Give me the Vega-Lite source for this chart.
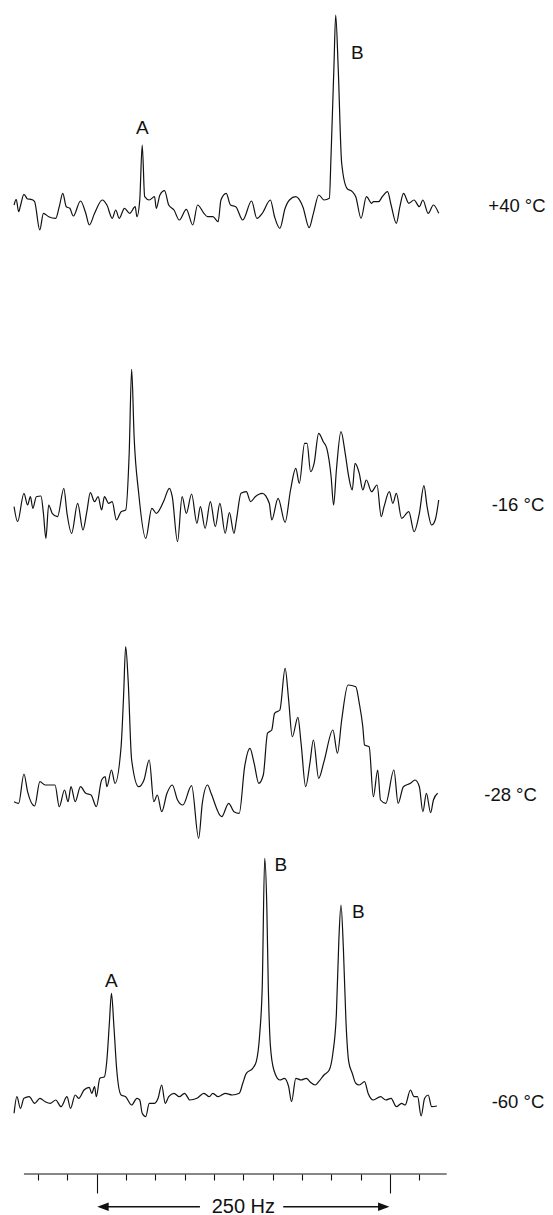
{
  "$schema": "https://vega.github.io/schema/vega-lite/v6.json",
  "padding": 0,
  "spacing": 0,
  "bounds": "flush",
  "background": "white",
  "config": {"view": {"stroke": null}, "axis": {"grid": false}, "text": {"font": "Liberation Sans", "color": "#111"}},
  "datasets": {
    "spectra": [
      {"temp":"+40","hz":-70.4,"signal":0},{"temp":"+40","hz":-68.6,"signal":5.7},{"temp":"+40","hz":-66.5,"signal":-6.7},{"temp":"+40","hz":-65.0,"signal":-1},{"temp":"+40","hz":-62.0,"signal":10.7},{"temp":"+40","hz":-58.9,"signal":6},{"temp":"+40","hz":-56.0,"signal":5.7},{"temp":"+40","hz":-53.0,"signal":3.7},{"temp":"+40","hz":-48.5,"signal":-25},{"temp":"+40","hz":-45.4,"signal":-8.3},{"temp":"+40","hz":-40.9,"signal":-11.7},{"temp":"+40","hz":-34.9,"signal":-13.3},{"temp":"+40","hz":-31.9,"signal":-1.7},{"temp":"+40","hz":-28.9,"signal":11.7},{"temp":"+40","hz":-25.9,"signal":-1.7},{"temp":"+40","hz":-22.9,"signal":-3.3},{"temp":"+40","hz":-19.9,"signal":-11},{"temp":"+40","hz":-13.8,"signal":4},{"temp":"+40","hz":-9.3,"signal":-8.3},{"temp":"+40","hz":-6.3,"signal":-20},{"temp":"+40","hz":-1.8,"signal":-8.3},{"temp":"+40","hz":4.8,"signal":5},{"temp":"+40","hz":8.7,"signal":0},{"temp":"+40","hz":13.3,"signal":-13.3},{"temp":"+40","hz":16.2,"signal":-5},{"temp":"+40","hz":19.2,"signal":-13.3},{"temp":"+40","hz":23.7,"signal":-3.3},{"temp":"+40","hz":28.2,"signal":-8.3},{"temp":"+40","hz":32.8,"signal":-1.7},{"temp":"+40","hz":34.3,"signal":-11.7},{"temp":"+40","hz":36.7,"signal":5},{"temp":"+40","hz":38.8,"signal":60},{"temp":"+40","hz":40.9,"signal":8.3},{"temp":"+40","hz":44.8,"signal":5},{"temp":"+40","hz":49.3,"signal":8.3},{"temp":"+40","hz":50.8,"signal":-3.3},{"temp":"+40","hz":53.9,"signal":10},{"temp":"+40","hz":57.8,"signal":14.3},{"temp":"+40","hz":61.4,"signal":0},{"temp":"+40","hz":65.9,"signal":-5},{"temp":"+40","hz":70.4,"signal":-15},{"temp":"+40","hz":76.4,"signal":-4.3},{"temp":"+40","hz":81.9,"signal":-20},{"temp":"+40","hz":86.0,"signal":0},{"temp":"+40","hz":91.4,"signal":-8.3},{"temp":"+40","hz":94.5,"signal":-11.7},{"temp":"+40","hz":99.0,"signal":-11.7},{"temp":"+40","hz":103.5,"signal":-16.7},{"temp":"+40","hz":105.9,"signal":5},{"temp":"+40","hz":110.4,"signal":11.7},{"temp":"+40","hz":114.0,"signal":0},{"temp":"+40","hz":118.5,"signal":-1.7},{"temp":"+40","hz":124.5,"signal":-15},{"temp":"+40","hz":132.0,"signal":4},{"temp":"+40","hz":136.5,"signal":-13.3},{"temp":"+40","hz":141.1,"signal":-8.3},{"temp":"+40","hz":148.0,"signal":5},{"temp":"+40","hz":151.6,"signal":-11.7},{"temp":"+40","hz":156.1,"signal":-23.3},{"temp":"+40","hz":160.6,"signal":-3.3},{"temp":"+40","hz":164.3,"signal":5},{"temp":"+40","hz":169.7,"signal":8.3},{"temp":"+40","hz":175.7,"signal":-1.7},{"temp":"+40","hz":181.1,"signal":-22.7},{"temp":"+40","hz":184.7,"signal":-8.3},{"temp":"+40","hz":189.3,"signal":10},{"temp":"+40","hz":193.8,"signal":5},{"temp":"+40","hz":198.3,"signal":6.7},{"temp":"+40","hz":199.7,"signal":48.3},{"temp":"+40","hz":202.2,"signal":138.3},{"temp":"+40","hz":203.7,"signal":190},{"temp":"+40","hz":205.8,"signal":138.3},{"temp":"+40","hz":208.8,"signal":41.7},{"temp":"+40","hz":213.3,"signal":16.7},{"temp":"+40","hz":217.8,"signal":13.3},{"temp":"+40","hz":220.8,"signal":8.3},{"temp":"+40","hz":225.3,"signal":-13.3},{"temp":"+40","hz":229.9,"signal":8.3},{"temp":"+40","hz":234.4,"signal":1.7},{"temp":"+40","hz":235.8,"signal":3.3},{"temp":"+40","hz":240.3,"signal":3.3},{"temp":"+40","hz":243.4,"signal":8.3},{"temp":"+40","hz":247.9,"signal":13.3},{"temp":"+40","hz":250.9,"signal":0},{"temp":"+40","hz":255.4,"signal":-18.3},{"temp":"+40","hz":258.4,"signal":-1.7},{"temp":"+40","hz":261.5,"signal":11.7},{"temp":"+40","hz":266.0,"signal":1.7},{"temp":"+40","hz":270.5,"signal":5},{"temp":"+40","hz":275.0,"signal":-1.7},{"temp":"+40","hz":278.0,"signal":5},{"temp":"+40","hz":282.5,"signal":-8.3},{"temp":"+40","hz":287.0,"signal":0},{"temp":"+40","hz":291.5,"signal":-8.3},

      {"temp":"-16","hz":-70.4,"signal":3.3},{"temp":"-16","hz":-67.4,"signal":-11.7},{"temp":"-16","hz":-62.0,"signal":16.7},{"temp":"-16","hz":-58.9,"signal":5},{"temp":"-16","hz":-56.5,"signal":13.3},{"temp":"-16","hz":-54.4,"signal":1.7},{"temp":"-16","hz":-51.4,"signal":13.3},{"temp":"-16","hz":-47.5,"signal":14},{"temp":"-16","hz":-45.4,"signal":-3.3},{"temp":"-16","hz":-43.3,"signal":-28.3},{"temp":"-16","hz":-40.9,"signal":5},{"temp":"-16","hz":-37.9,"signal":-3.3},{"temp":"-16","hz":-33.4,"signal":-6.7},{"temp":"-16","hz":-28.0,"signal":21.7},{"temp":"-16","hz":-25.3,"signal":-3.3},{"temp":"-16","hz":-21.4,"signal":-23.3},{"temp":"-16","hz":-16.2,"signal":6.7},{"temp":"-16","hz":-11.7,"signal":-20},{"temp":"-16","hz":-8.4,"signal":-1.7},{"temp":"-16","hz":-5.4,"signal":17.3},{"temp":"-16","hz":-1.8,"signal":8.3},{"temp":"-16","hz":1.2,"signal":13.3},{"temp":"-16","hz":4.2,"signal":0},{"temp":"-16","hz":6.6,"signal":13.3},{"temp":"-16","hz":10.2,"signal":6.7},{"temp":"-16","hz":13.2,"signal":8.3},{"temp":"-16","hz":16.8,"signal":-10},{"temp":"-16","hz":20.8,"signal":-1.7},{"temp":"-16","hz":24.7,"signal":0},{"temp":"-16","hz":27.7,"signal":56.7},{"temp":"-16","hz":29.8,"signal":140.7},{"temp":"-16","hz":31.9,"signal":73.3},{"temp":"-16","hz":35.8,"signal":16.7},{"temp":"-16","hz":41.8,"signal":-28.3},{"temp":"-16","hz":47.0,"signal":1.7},{"temp":"-16","hz":50.8,"signal":-3.3},{"temp":"-16","hz":56.9,"signal":8.3},{"temp":"-16","hz":62.0,"signal":21.7},{"temp":"-16","hz":64.4,"signal":13.3},{"temp":"-16","hz":68.9,"signal":-31.7},{"temp":"-16","hz":72.8,"signal":13.3},{"temp":"-16","hz":76.4,"signal":-3.3},{"temp":"-16","hz":80.9,"signal":16},{"temp":"-16","hz":85.4,"signal":-13.3},{"temp":"-16","hz":88.4,"signal":3.3},{"temp":"-16","hz":92.4,"signal":-18.3},{"temp":"-16","hz":96.9,"signal":8.3},{"temp":"-16","hz":101.1,"signal":-16.7},{"temp":"-16","hz":105.0,"signal":6.7},{"temp":"-16","hz":109.5,"signal":-23.3},{"temp":"-16","hz":113.1,"signal":-2.7},{"temp":"-16","hz":117.0,"signal":-23.3},{"temp":"-16","hz":119.1,"signal":-10},{"temp":"-16","hz":123.0,"signal":16.7},{"temp":"-16","hz":127.5,"signal":18.3},{"temp":"-16","hz":131.2,"signal":8.3},{"temp":"-16","hz":135.1,"signal":13.3},{"temp":"-16","hz":141.1,"signal":16.7},{"temp":"-16","hz":147.1,"signal":6.7},{"temp":"-16","hz":149.2,"signal":-10},{"temp":"-16","hz":154.6,"signal":11.7},{"temp":"-16","hz":160.6,"signal":-12.3},{"temp":"-16","hz":165.2,"signal":20},{"temp":"-16","hz":169.7,"signal":41.7},{"temp":"-16","hz":172.7,"signal":26.7},{"temp":"-16","hz":177.2,"signal":66.7},{"temp":"-16","hz":179.3,"signal":66.7},{"temp":"-16","hz":182.3,"signal":38.3},{"temp":"-16","hz":185.3,"signal":46.7},{"temp":"-16","hz":189.2,"signal":76.7},{"temp":"-16","hz":193.1,"signal":68.3},{"temp":"-16","hz":196.1,"signal":61.7},{"temp":"-16","hz":199.8,"signal":33.3},{"temp":"-16","hz":201.9,"signal":5},{"temp":"-16","hz":204.3,"signal":40},{"temp":"-16","hz":208.2,"signal":78.3},{"temp":"-16","hz":211.8,"signal":56.7},{"temp":"-16","hz":214.8,"signal":33.3},{"temp":"-16","hz":217.8,"signal":20},{"temp":"-16","hz":220.2,"signal":46.7},{"temp":"-16","hz":223.8,"signal":36.7},{"temp":"-16","hz":226.8,"signal":20},{"temp":"-16","hz":229.8,"signal":30},{"temp":"-16","hz":234.3,"signal":18.3},{"temp":"-16","hz":238.9,"signal":25},{"temp":"-16","hz":242.5,"signal":-6.7},{"temp":"-16","hz":244.9,"signal":3.3},{"temp":"-16","hz":249.4,"signal":18.3},{"temp":"-16","hz":252.4,"signal":6.7},{"temp":"-16","hz":255.4,"signal":16.7},{"temp":"-16","hz":259.9,"signal":-8.3},{"temp":"-16","hz":266.0,"signal":-1.7},{"temp":"-16","hz":270.5,"signal":-21.7},{"temp":"-16","hz":275.0,"signal":-3.3},{"temp":"-16","hz":278.9,"signal":24.3},{"temp":"-16","hz":281.6,"signal":3.3},{"temp":"-16","hz":285.5,"signal":-15},{"temp":"-16","hz":288.5,"signal":-10},{"temp":"-16","hz":291.5,"signal":10},

      {"temp":"-28","hz":-70.4,"signal":-1.7},{"temp":"-28","hz":-66.5,"signal":-3.3},{"temp":"-28","hz":-62.0,"signal":26},{"temp":"-28","hz":-58.9,"signal":8.3},{"temp":"-28","hz":-52.9,"signal":-6},{"temp":"-28","hz":-48.4,"signal":18.3},{"temp":"-28","hz":-43.9,"signal":15},{"temp":"-28","hz":-35.5,"signal":15},{"temp":"-28","hz":-31.9,"signal":-6.7},{"temp":"-28","hz":-27.4,"signal":10},{"temp":"-28","hz":-24.4,"signal":-1.7},{"temp":"-28","hz":-21.9,"signal":13.3},{"temp":"-28","hz":-18.3,"signal":-1.7},{"temp":"-28","hz":-13.8,"signal":13.3},{"temp":"-28","hz":-9.3,"signal":6.7},{"temp":"-28","hz":-4.8,"signal":5},{"temp":"-28","hz":-0.3,"signal":-6.7},{"temp":"-28","hz":4.2,"signal":20},{"temp":"-28","hz":7.2,"signal":23.3},{"temp":"-28","hz":8.7,"signal":13.3},{"temp":"-28","hz":12.6,"signal":30},{"temp":"-28","hz":15.6,"signal":16.7},{"temp":"-28","hz":20.8,"signal":53.3},{"temp":"-28","hz":22.9,"signal":103.3},{"temp":"-28","hz":24.7,"signal":153.3},{"temp":"-28","hz":26.8,"signal":120},{"temp":"-28","hz":29.8,"signal":40},{"temp":"-28","hz":35.8,"signal":13.3},{"temp":"-28","hz":40.3,"signal":20},{"temp":"-28","hz":44.8,"signal":40},{"temp":"-28","hz":48.7,"signal":-1.7},{"temp":"-28","hz":51.7,"signal":5},{"temp":"-28","hz":55.4,"signal":-11.7},{"temp":"-28","hz":59.9,"signal":6.7},{"temp":"-28","hz":64.4,"signal":15},{"temp":"-28","hz":68.9,"signal":0},{"temp":"-28","hz":73.4,"signal":-5},{"temp":"-28","hz":80.9,"signal":14.3},{"temp":"-28","hz":86.9,"signal":-38.3},{"temp":"-28","hz":90.0,"signal":-3.3},{"temp":"-28","hz":94.5,"signal":15},{"temp":"-28","hz":97.5,"signal":6.7},{"temp":"-28","hz":106.5,"signal":-16.7},{"temp":"-28","hz":112.5,"signal":-3.3},{"temp":"-28","hz":117.0,"signal":-11.7},{"temp":"-28","hz":121.5,"signal":-13.3},{"temp":"-28","hz":126.1,"signal":33.3},{"temp":"-28","hz":130.6,"signal":51.7},{"temp":"-28","hz":134.2,"signal":36.7},{"temp":"-28","hz":138.1,"signal":16.7},{"temp":"-28","hz":142.0,"signal":25},{"temp":"-28","hz":145.6,"signal":66.7},{"temp":"-28","hz":149.2,"signal":70},{"temp":"-28","hz":151.6,"signal":86.7},{"temp":"-28","hz":156.1,"signal":90},{"temp":"-28","hz":160.6,"signal":131.7},{"temp":"-28","hz":163.6,"signal":100},{"temp":"-28","hz":166.7,"signal":63.3},{"temp":"-28","hz":171.5,"signal":82.7},{"temp":"-28","hz":174.2,"signal":56.7},{"temp":"-28","hz":178.1,"signal":13.3},{"temp":"-28","hz":181.7,"signal":36.7},{"temp":"-28","hz":184.7,"signal":60},{"temp":"-28","hz":189.2,"signal":21.7},{"temp":"-28","hz":193.7,"signal":38.3},{"temp":"-28","hz":201.3,"signal":70},{"temp":"-28","hz":205.2,"signal":46.7},{"temp":"-28","hz":208.8,"signal":80},{"temp":"-28","hz":214.2,"signal":115},{"temp":"-28","hz":220.8,"signal":113.3},{"temp":"-28","hz":223.8,"signal":96.7},{"temp":"-28","hz":226.8,"signal":73.3},{"temp":"-28","hz":228.3,"signal":55},{"temp":"-28","hz":232.2,"signal":53.3},{"temp":"-28","hz":235.8,"signal":3.3},{"temp":"-28","hz":239.5,"signal":30},{"temp":"-28","hz":241.9,"signal":0},{"temp":"-28","hz":246.4,"signal":-3.3},{"temp":"-28","hz":253.3,"signal":30},{"temp":"-28","hz":256.9,"signal":-3.3},{"temp":"-28","hz":261.4,"signal":13.3},{"temp":"-28","hz":267.4,"signal":16.7},{"temp":"-28","hz":271.3,"signal":20},{"temp":"-28","hz":275.0,"signal":13.3},{"temp":"-28","hz":278.0,"signal":-11.7},{"temp":"-28","hz":281.0,"signal":6.7},{"temp":"-28","hz":284.6,"signal":-12.7},{"temp":"-28","hz":287.0,"signal":0},{"temp":"-28","hz":290.6,"signal":6.7},

      {"temp":"-60","hz":-70.4,"signal":-13.3},{"temp":"-60","hz":-68.0,"signal":3.3},{"temp":"-60","hz":-65.0,"signal":-8.3},{"temp":"-60","hz":-62.0,"signal":1.7},{"temp":"-60","hz":-57.5,"signal":3.3},{"temp":"-60","hz":-52.9,"signal":-3.3},{"temp":"-60","hz":-48.4,"signal":1.7},{"temp":"-60","hz":-43.9,"signal":-1.7},{"temp":"-60","hz":-39.4,"signal":-3.3},{"temp":"-60","hz":-34.9,"signal":0},{"temp":"-60","hz":-30.4,"signal":-6.7},{"temp":"-60","hz":-25.3,"signal":3.3},{"temp":"-60","hz":-22.3,"signal":-8.3},{"temp":"-60","hz":-18.3,"signal":5},{"temp":"-60","hz":-15.3,"signal":1.7},{"temp":"-60","hz":-10.8,"signal":10},{"temp":"-60","hz":-6.3,"signal":12.7},{"temp":"-60","hz":-4.2,"signal":6.7},{"temp":"-60","hz":-1.8,"signal":13.3},{"temp":"-60","hz":-0.3,"signal":3.3},{"temp":"-60","hz":2.7,"signal":21.7},{"temp":"-60","hz":6.6,"signal":23.3},{"temp":"-60","hz":8.7,"signal":40},{"temp":"-60","hz":10.8,"signal":76.7},{"temp":"-60","hz":12.6,"signal":106.7},{"temp":"-60","hz":14.7,"signal":73.3},{"temp":"-60","hz":17.1,"signal":30},{"temp":"-60","hz":20.8,"signal":5},{"temp":"-60","hz":24.7,"signal":3.3},{"temp":"-60","hz":29.8,"signal":-5},{"temp":"-60","hz":34.3,"signal":1.7},{"temp":"-60","hz":36.7,"signal":0},{"temp":"-60","hz":38.8,"signal":-13.3},{"temp":"-60","hz":41.8,"signal":-16.7},{"temp":"-60","hz":44.8,"signal":-3.3},{"temp":"-60","hz":49.3,"signal":-3.3},{"temp":"-60","hz":52.3,"signal":1.7},{"temp":"-60","hz":55.4,"signal":15},{"temp":"-60","hz":58.4,"signal":-3.3},{"temp":"-60","hz":61.4,"signal":3.3},{"temp":"-60","hz":65.9,"signal":6.7},{"temp":"-60","hz":70.4,"signal":3.3},{"temp":"-60","hz":74.9,"signal":6.7},{"temp":"-60","hz":79.4,"signal":0},{"temp":"-60","hz":85.4,"signal":1.7},{"temp":"-60","hz":91.4,"signal":6.7},{"temp":"-60","hz":96.0,"signal":3.3},{"temp":"-60","hz":99.0,"signal":6.7},{"temp":"-60","hz":103.5,"signal":3.3},{"temp":"-60","hz":109.5,"signal":6.7},{"temp":"-60","hz":115.5,"signal":5},{"temp":"-60","hz":121.5,"signal":6.7},{"temp":"-60","hz":124.5,"signal":16.7},{"temp":"-60","hz":127.5,"signal":26.7},{"temp":"-60","hz":133.0,"signal":31.7},{"temp":"-60","hz":136.0,"signal":38.3},{"temp":"-60","hz":139.0,"signal":66.7},{"temp":"-60","hz":141.1,"signal":113.3},{"temp":"-60","hz":143.2,"signal":241.7},{"temp":"-60","hz":145.0,"signal":193.3},{"temp":"-60","hz":146.2,"signal":116.7},{"temp":"-60","hz":148.0,"signal":55},{"temp":"-60","hz":151.0,"signal":30},{"temp":"-60","hz":156.1,"signal":20},{"temp":"-60","hz":160.0,"signal":21.7},{"temp":"-60","hz":163.6,"signal":13.3},{"temp":"-60","hz":166.1,"signal":-1.7},{"temp":"-60","hz":169.7,"signal":21.7},{"temp":"-60","hz":174.2,"signal":20},{"temp":"-60","hz":178.7,"signal":21.7},{"temp":"-60","hz":181.7,"signal":18.3},{"temp":"-60","hz":186.2,"signal":15},{"temp":"-60","hz":189.2,"signal":18.3},{"temp":"-60","hz":193.7,"signal":25},{"temp":"-60","hz":198.2,"signal":30},{"temp":"-60","hz":201.3,"signal":46.7},{"temp":"-60","hz":204.3,"signal":86.7},{"temp":"-60","hz":206.4,"signal":160},{"temp":"-60","hz":208.2,"signal":195},{"temp":"-60","hz":210.3,"signal":150},{"temp":"-60","hz":212.4,"signal":80},{"temp":"-60","hz":214.8,"signal":38.3},{"temp":"-60","hz":217.8,"signal":26.7},{"temp":"-60","hz":220.8,"signal":16.7},{"temp":"-60","hz":223.8,"signal":15},{"temp":"-60","hz":228.3,"signal":18.3},{"temp":"-60","hz":231.3,"signal":6.7},{"temp":"-60","hz":235.8,"signal":0},{"temp":"-60","hz":241.9,"signal":3.3},{"temp":"-60","hz":246.4,"signal":0},{"temp":"-60","hz":250.9,"signal":1.7},{"temp":"-60","hz":255.4,"signal":-6.7},{"temp":"-60","hz":259.9,"signal":-3.3},{"temp":"-60","hz":262.9,"signal":-5},{"temp":"-60","hz":267.4,"signal":10},{"temp":"-60","hz":270.5,"signal":3.3},{"temp":"-60","hz":273.5,"signal":3.3},{"temp":"-60","hz":276.5,"signal":-16},{"temp":"-60","hz":279.5,"signal":1.7},{"temp":"-60","hz":282.5,"signal":5},{"temp":"-60","hz":285.5,"signal":-6.7},{"temp":"-60","hz":290.0,"signal":-6}
    ],
    "labels": [
      {"temp":"+40","kind":"peak","text":"A","hz":39.0,"signal":77},
      {"temp":"+40","kind":"peak","text":"B","hz":222.1,"signal":152},
      {"temp":"+40","kind":"temperature","text":"+40 °C","hz":333.8,"signal":-1},
      {"temp":"-16","kind":"temperature","text":"-16 °C","hz":336.6,"signal":5},
      {"temp":"-28","kind":"temperature","text":"-28 °C","hz":330.3,"signal":5},
      {"temp":"-60","kind":"peak","text":"A","hz":12.6,"signal":119},
      {"temp":"-60","kind":"peak","text":"B","hz":156.9,"signal":235},
      {"temp":"-60","kind":"peak","text":"B","hz":222.9,"signal":188},
      {"temp":"-60","kind":"temperature","text":"-60 °C","hz":336.6,"signal":-2}
    ]
  },
  "vconcat": [
    {
      "width": 553, "height": 290,
      "layer": [
        {"data": {"name": "spectra"}, "transform": [{"filter": "datum.temp === '+40'"}],
         "mark": {"type": "line", "color": "#111", "strokeWidth": 1.2, "interpolate": "monotone"},
         "encoding": {"x": {"field": "hz", "type": "quantitative", "scale": {"domain": [-82.4, 388.9], "nice": false, "zero": false}, "axis": null},
                      "y": {"field": "signal", "type": "quantitative", "scale": {"domain": [-85, 205], "nice": false, "zero": false}, "axis": null}}},
        {"data": {"name": "labels"}, "transform": [{"filter": "datum.temp === '+40' && datum.kind === 'peak'"}],
         "mark": {"type": "text", "fontSize": 19, "align": "center", "baseline": "middle"},
         "encoding": {"x": {"field": "hz", "type": "quantitative"}, "y": {"field": "signal", "type": "quantitative"}, "text": {"field": "text"}}},
        {"data": {"name": "labels"}, "transform": [{"filter": "datum.temp === '+40' && datum.kind === 'temperature'"}],
         "mark": {"type": "text", "fontSize": 18.5, "align": "left", "baseline": "middle"},
         "encoding": {"x": {"field": "hz", "type": "quantitative"}, "y": {"field": "signal", "type": "quantitative"}, "text": {"field": "text"}}}
      ]
    },
    {
      "width": 553, "height": 300,
      "layer": [
        {"data": {"name": "spectra"}, "transform": [{"filter": "datum.temp === '-16'"}],
         "mark": {"type": "line", "color": "#111", "strokeWidth": 1.2, "interpolate": "monotone"},
         "encoding": {"x": {"field": "hz", "type": "quantitative", "scale": {"domain": [-82.4, 388.9], "nice": false, "zero": false}, "axis": null},
                      "y": {"field": "signal", "type": "quantitative", "scale": {"domain": [-80, 220], "nice": false, "zero": false}, "axis": null}}},
        {"data": {"name": "labels"}, "transform": [{"filter": "datum.temp === '-16' && datum.kind === 'temperature'"}],
         "mark": {"type": "text", "fontSize": 18.5, "align": "left", "baseline": "middle"},
         "encoding": {"x": {"field": "hz", "type": "quantitative"}, "y": {"field": "signal", "type": "quantitative"}, "text": {"field": "text"}}}
      ]
    },
    {
      "width": 553, "height": 250,
      "layer": [
        {"data": {"name": "spectra"}, "transform": [{"filter": "datum.temp === '-28'"}],
         "mark": {"type": "line", "color": "#111", "strokeWidth": 1.2, "interpolate": "monotone"},
         "encoding": {"x": {"field": "hz", "type": "quantitative", "scale": {"domain": [-82.4, 388.9], "nice": false, "zero": false}, "axis": null},
                      "y": {"field": "signal", "type": "quantitative", "scale": {"domain": [-40, 210], "nice": false, "zero": false}, "axis": null}}},
        {"data": {"name": "labels"}, "transform": [{"filter": "datum.temp === '-28' && datum.kind === 'temperature'"}],
         "mark": {"type": "text", "fontSize": 18.5, "align": "left", "baseline": "middle"},
         "encoding": {"x": {"field": "hz", "type": "quantitative"}, "y": {"field": "signal", "type": "quantitative"}, "text": {"field": "text"}}}
      ]
    },
    {
      "width": 553, "height": 334,
      "layer": [
        {"data": {"name": "spectra"}, "transform": [{"filter": "datum.temp === '-60'"}],
         "mark": {"type": "line", "color": "#111", "strokeWidth": 1.2, "interpolate": "monotone"},
         "encoding": {"x": {"field": "hz", "type": "quantitative", "scale": {"domain": [-82.4, 388.9], "nice": false, "zero": false},
                            "axis": {"title": null, "values": [-50,-25,0,25,50,75,100,125,150,175,200,225,250,275], "labels": false, "domain": false, "grid": false,
                                     "tickColor": "#111", "tickWidth": 1.1,
                                     "tickSize": {"condition": {"test": "datum.value === 0 || datum.value === 250", "value": 19}, "value": 6}}},
                      "y": {"field": "signal", "type": "quantitative", "scale": {"domain": [-74, 260], "nice": false, "zero": false}, "axis": null}}},
        {"data": {"name": "labels"}, "transform": [{"filter": "datum.temp === '-60' && datum.kind === 'peak'"}],
         "mark": {"type": "text", "fontSize": 19, "align": "center", "baseline": "middle"},
         "encoding": {"x": {"field": "hz", "type": "quantitative"}, "y": {"field": "signal", "type": "quantitative"}, "text": {"field": "text"}}},
        {"data": {"name": "labels"}, "transform": [{"filter": "datum.temp === '-60' && datum.kind === 'temperature'"}],
         "mark": {"type": "text", "fontSize": 18.5, "align": "left", "baseline": "middle"},
         "encoding": {"x": {"field": "hz", "type": "quantitative"}, "y": {"field": "signal", "type": "quantitative"}, "text": {"field": "text"}}},
        {"data": {"values": [{}]},
         "mark": {"type": "rule", "color": "#111", "strokeWidth": 1.1},
         "encoding": {"x": {"datum": -62.0}, "x2": {"datum": 298.3}, "y": {"datum": -74}}},
        {"data": {"values": [{}]},
         "mark": {"type": "rule", "color": "#111", "strokeWidth": 1.4},
         "encoding": {"x": {"datum": 3}, "x2": {"datum": 88}, "y": {"datum": -106.7}}},
        {"data": {"values": [{}]},
         "mark": {"type": "rule", "color": "#111", "strokeWidth": 1.4},
         "encoding": {"x": {"datum": 159}, "x2": {"datum": 247}, "y": {"datum": -106.7}}},
        {"data": {"values": [{}]},
         "mark": {"type": "point", "filled": true, "color": "#111", "opacity": 1, "size": 130, "shape": "M 0 0 L 2 -0.75 L 2 0.75 Z"},
         "encoding": {"x": {"datum": 0.5}, "y": {"datum": -106.7}}},
        {"data": {"values": [{}]},
         "mark": {"type": "point", "filled": true, "color": "#111", "opacity": 1, "size": 130, "shape": "M 0 0 L -2 -0.75 L -2 0.75 Z"},
         "encoding": {"x": {"datum": 249.5}, "y": {"datum": -106.7}}},
        {"data": {"values": [{}]},
         "mark": {"type": "text", "fontSize": 20, "align": "center", "baseline": "middle", "text": "250 Hz"},
         "encoding": {"x": {"datum": 125}, "y": {"datum": -106.7}}}
      ]
    }
  ]
}
